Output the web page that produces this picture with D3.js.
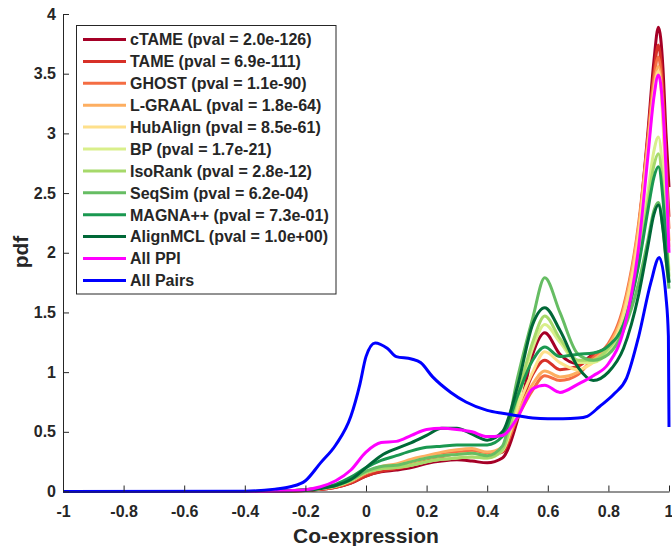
<!DOCTYPE html>
<html>
<head>
<meta charset="utf-8">
<script src="https://cdn.jsdelivr.net/npm/d3@7"></script>
<style>
  html, body { margin: 0; padding: 0; background: #fff; }
  svg text { font-family: "Liberation Sans", Arial, Helvetica, sans-serif; font-weight: bold; fill: #262626; }
</style>
</head>
<body>
<svg id="chart" width="672" height="546"></svg>
<script>
// ---------------- DATA ----------------
const seriesNames = [
  "cTAME (pval = 2.0e-126)", "TAME (pval = 6.9e-111)", "GHOST (pval = 1.1e-90)",
  "L-GRAAL (pval = 1.8e-64)", "HubAlign (pval = 8.5e-61)", "BP (pval = 1.7e-21)",
  "IsoRank (pval = 2.8e-12)", "SeqSim (pval = 6.2e-04)", "MAGNA++ (pval = 7.3e-01)",
  "AlignMCL (pval = 1.0e+00)", "All PPI", "All Pairs"
];
const seriesColors = ["#a50026", "#d73027", "#f46d43", "#fdae61", "#fee08b", "#d9ef8b",
  "#a6d96a", "#66bd63", "#1a9850", "#006837", "#ff00ff", "#0000ff"];

// shared co-expression grid for the alignment / PPI densities
const xGrid = [-1, -0.4, -0.3, -0.2, -0.15, -0.1, -0.05, 0, 0.05, 0.1, 0.15, 0.2, 0.25, 0.3, 0.35, 0.4, 0.45,
  0.5, 0.55, 0.59, 0.64, 0.7, 0.75, 0.8, 0.85, 0.9, 0.93, 0.95, 0.965, 0.98, 0.99, 1.0];

const cTAME    = [0, 0, 0.002, 0.008, 0.018, 0.035, 0.07, 0.13, 0.165, 0.18, 0.2, 0.235, 0.255, 0.265, 0.255, 0.24, 0.28,
  0.6, 1.15, 1.33, 1.15, 1.07, 1.15, 1.22, 1.5, 2.2, 3.0, 3.6, 3.89, 3.55, 3.0, 2.55];
const TAME     = [0, 0, 0.002, 0.008, 0.018, 0.035, 0.07, 0.13, 0.17, 0.19, 0.22, 0.26, 0.29, 0.32, 0.33, 0.3, 0.33,
  0.65, 0.98, 1.10, 1.02, 1.05, 1.14, 1.22, 1.52, 2.2, 2.95, 3.5, 3.74, 3.35, 2.8, 2.3];
const GHOST    = [0, 0, 0.003, 0.01, 0.02, 0.04, 0.08, 0.15, 0.19, 0.21, 0.24, 0.28, 0.31, 0.33, 0.34, 0.32, 0.35,
  0.62, 0.85, 0.97, 0.93, 0.98, 1.12, 1.24, 1.55, 2.25, 2.95, 3.45, 3.64, 3.25, 2.7, 2.2];
const LGRAAL   = [0, 0, 0.003, 0.012, 0.025, 0.045, 0.09, 0.16, 0.21, 0.23, 0.27, 0.3, 0.33, 0.35, 0.36, 0.33, 0.37,
  0.65, 0.9, 1.01, 0.96, 1.0, 1.1, 1.22, 1.52, 2.22, 2.9, 3.38, 3.56, 3.15, 2.6, 2.1];
const HubAlign = [0, 0, 0.003, 0.012, 0.025, 0.045, 0.09, 0.16, 0.2, 0.22, 0.25, 0.28, 0.3, 0.31, 0.32, 0.3, 0.35,
  0.7, 1.0, 1.17, 1.08, 1.02, 1.08, 1.18, 1.48, 2.15, 2.85, 3.33, 3.52, 3.1, 2.55, 2.05];
const BP       = [0, 0, 0.003, 0.012, 0.025, 0.045, 0.09, 0.16, 0.19, 0.2, 0.22, 0.25, 0.27, 0.28, 0.29, 0.28, 0.34,
  0.75, 1.2, 1.40, 1.25, 1.08, 1.08, 1.18, 1.42, 1.98, 2.5, 2.85, 2.97, 2.65, 2.25, 1.85];
const IsoRank  = [0, 0, 0.003, 0.012, 0.025, 0.045, 0.09, 0.16, 0.19, 0.2, 0.22, 0.25, 0.27, 0.28, 0.29, 0.28, 0.35,
  0.8, 1.25, 1.47, 1.28, 1.1, 1.1, 1.2, 1.4, 1.92, 2.42, 2.73, 2.83, 2.52, 2.15, 1.8];
const SeqSim   = [0, 0, 0.004, 0.015, 0.03, 0.05, 0.1, 0.17, 0.21, 0.22, 0.25, 0.28, 0.3, 0.31, 0.32, 0.3, 0.38,
  0.95, 1.45, 1.79, 1.5, 1.15, 1.1, 1.15, 1.35, 1.75, 2.1, 2.35, 2.42, 2.2, 1.95, 1.7];
const MAGNA    = [0, 0, 0.004, 0.015, 0.03, 0.06, 0.12, 0.2, 0.26, 0.3, 0.34, 0.37, 0.38, 0.39, 0.39, 0.39, 0.46,
  0.8, 1.1, 1.21, 1.13, 1.15, 1.16, 1.22, 1.4, 1.9, 2.35, 2.63, 2.72, 2.45, 2.1, 1.75];
const AlignMCL = [0, 0, 0.002, 0.01, 0.025, 0.05, 0.1, 0.2, 0.3, 0.36, 0.41, 0.47, 0.53, 0.53, 0.48, 0.43, 0.5,
  0.88, 1.4, 1.54, 1.35, 1.04, 0.93, 1.0, 1.2, 1.65, 2.05, 2.32, 2.40, 2.2, 1.95, 1.75];
const AllPPI   = [0, 0, 0.003, 0.015, 0.04, 0.09, 0.18, 0.33, 0.41, 0.42, 0.47, 0.52, 0.53, 0.52, 0.5, 0.46, 0.47,
  0.62, 0.86, 0.89, 0.83, 0.9, 0.97, 1.07, 1.35, 2.05, 2.8, 3.3, 3.49, 3.2, 2.7, 2.0];

// all gene pairs density (own grid)
const xPairs = [-1, -0.4, -0.3, -0.25, -0.2, -0.15, -0.1, -0.05, -0.02, 0, 0.03, 0.07, 0.1, 0.15, 0.18, 0.22, 0.28, 0.33,
  0.4, 0.45, 0.5, 0.55, 0.6, 0.65, 0.7, 0.73, 0.77, 0.82, 0.86, 0.9, 0.94, 0.968, 0.99, 0.998, 1.0];
const AllPairs = [0, 0.003, 0.02, 0.04, 0.09, 0.24, 0.39, 0.63, 0.9, 1.13, 1.245, 1.2, 1.13, 1.11, 1.08, 0.96, 0.83, 0.75,
  0.68, 0.655, 0.635, 0.615, 0.61, 0.61, 0.615, 0.63, 0.71, 0.82, 0.95, 1.3, 1.75, 1.96, 1.63, 1.3, 0.54];

const xTicks = [-1, -0.8, -0.6, -0.4, -0.2, 0, 0.2, 0.4, 0.6, 0.8, 1];
const xTickLabels = ["-1", "-0.8", "-0.6", "-0.4", "-0.2", "0", "0.2", "0.4", "0.6", "0.8", "1"];
const yTicks = [0, 0.5, 1, 1.5, 2, 2.5, 3, 3.5, 4];
const yTickLabels = ["0", "0.5", "1", "1.5", "2", "2.5", "3", "3.5", "4"];
const xLabel = "Co-expression";
const yLabel = "pdf";

// ---------------- DRAW ----------------
const svg = d3.select("#chart");
const x = d3.scaleLinear().domain([-1, 1]).range([63, 669]);
const y = d3.scaleLinear().domain([0, 4]).range([491.5, 14]);

const ySeries = [cTAME, TAME, GHOST, LGRAAL, HubAlign, BP, IsoRank, SeqSim, MAGNA, AlignMCL, AllPPI];
const series = ySeries.map((vals, i) => ({
  name: seriesNames[i], color: seriesColors[i],
  pts: xGrid.map((xv, j) => [xv, vals[j]])
}));
series.push({ name: seriesNames[11], color: seriesColors[11], pts: xPairs.map((xv, j) => [xv, AllPairs[j]]) });

const line = d3.line().x(d => x(d[0])).y(d => y(d[1])).curve(d3.curveMonotoneX);

svg.append("g").selectAll("path").data(series).join("path")
  .attr("d", d => line(d.pts))
  .attr("fill", "none")
  .attr("stroke", d => d.color)
  .attr("stroke-width", 3)
  .attr("stroke-linejoin", "round")
  .attr("stroke-linecap", "butt");

// axes (inward ticks)
const xAxis = d3.axisBottom(x).tickValues(xTicks).tickSizeInner(-6).tickSizeOuter(0).tickPadding(14)
  .tickFormat((d, i) => xTickLabels[i]);
const gx = svg.append("g").attr("transform", "translate(0,491.5)").call(xAxis);
const yAxis = d3.axisLeft(y).tickValues(yTicks).tickSizeInner(-6).tickSizeOuter(0).tickPadding(7)
  .tickFormat((d, i) => yTickLabels[i]);
const gy = svg.append("g").attr("transform", "translate(63,0)").call(yAxis);

[gx, gy].forEach(g => {
  g.select(".domain").attr("stroke", "#262626").attr("stroke-width", 1);
  g.selectAll(".tick line").attr("stroke", "#262626").attr("stroke-width", 1);
  g.selectAll(".tick text").attr("font-size", 16).attr("font-family", null).attr("fill", "#262626");
});
gx.selectAll(".tick text").attr("dy", "0.71em");
// keep the last label inside the page edge
gx.selectAll(".tick text").filter((d, i) => i === xTicks.length - 1).attr("text-anchor", "end").attr("dx", "4px");

// axis labels
svg.append("text").attr("x", 366).attr("y", 543).attr("text-anchor", "middle")
  .attr("font-size", 21).text(xLabel);
svg.append("text").attr("transform", "translate(28,252) rotate(-90)").attr("text-anchor", "middle")
  .attr("font-size", 21).text(yLabel);

// legend
const lg = svg.append("g");
lg.append("rect").attr("x", 76.5).attr("y", 25.5).attr("width", 259.5).attr("height", 268.5)
  .attr("fill", "#fff").attr("stroke", "#262626").attr("stroke-width", 1);
const ent = lg.selectAll("g.ent").data(series).join("g").attr("class", "ent")
  .attr("transform", (d, i) => `translate(0,${39.5 + i * 21.9})`);
ent.append("line").attr("x1", 83).attr("x2", 126).attr("y1", 0).attr("y2", 0)
  .attr("stroke", d => d.color).attr("stroke-width", 3);
ent.append("text").attr("x", 130).attr("y", 5.8).attr("font-size", 16).text(d => d.name);
</script>
</body>
</html>
